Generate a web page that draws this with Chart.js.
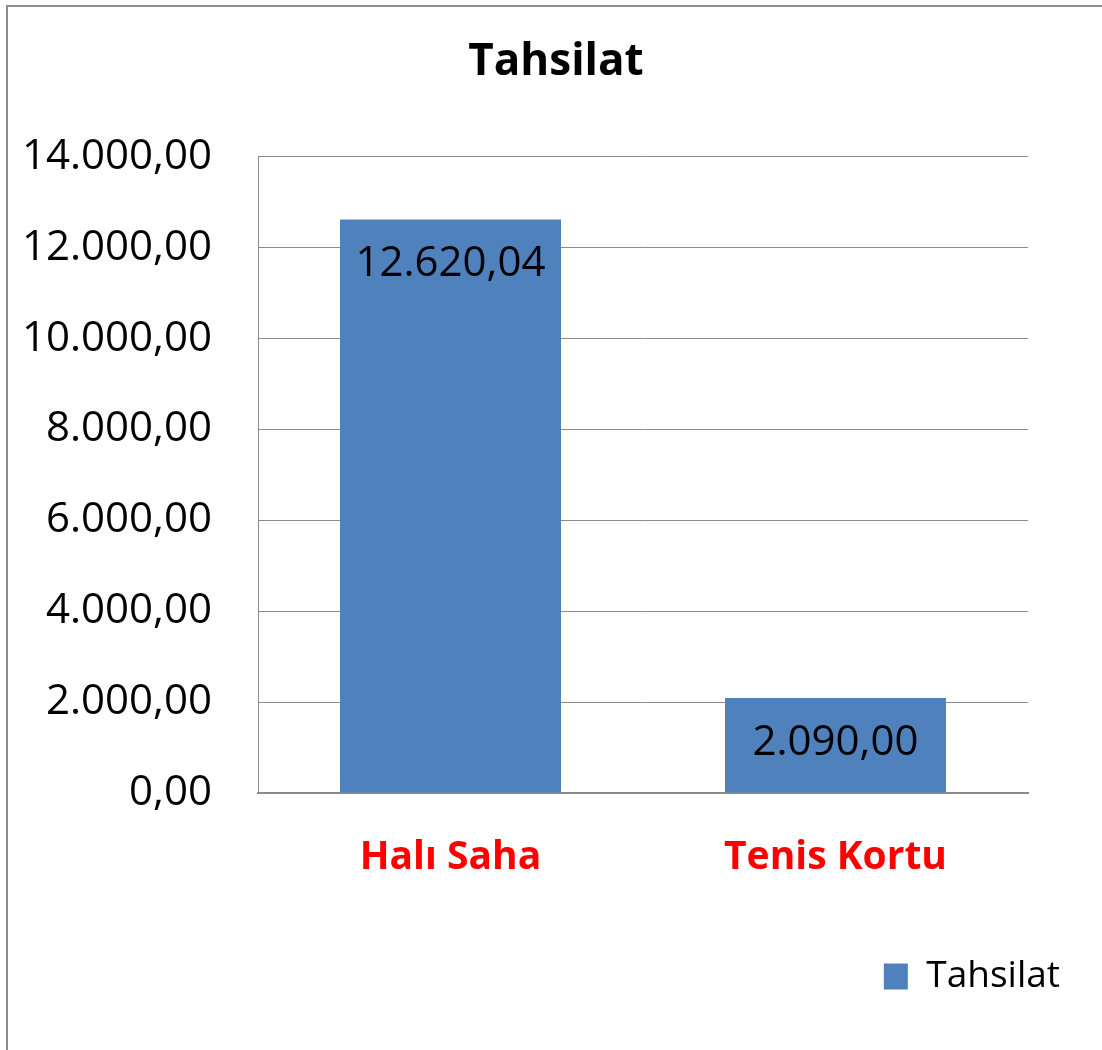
<!DOCTYPE html>
<html>
<head>
<meta charset="utf-8">
<script src="https://cdn.jsdelivr.net/npm/chart.js@4.4.0/dist/chart.umd.min.js"></script>
<style>
  html, body { margin: 0; padding: 0; background: #ffffff; }
  #wrap { width: 1102px; height: 1050px; position: relative; }
</style>
</head>
<body>
<div id="wrap"><canvas id="c" width="1102" height="1050"></canvas></div>
<script>
const categories = ['Halı Saha', 'Tenis Kortu'];
const seriesName = 'Tahsilat';
const values = [12620.04, 2090.00];
const valueLabels = ['12.620,04', '2.090,00'];
const tickValues = [0, 2000, 4000, 6000, 8000, 10000, 12000, 14000];
const tickLabels = ['0,00', '2.000,00', '4.000,00', '6.000,00', '8.000,00', '10.000,00', '12.000,00', '14.000,00'];

const FONT = "'Open Sans', 'Noto Sans', sans-serif";
const GRID = '#8c8c8c';

const frame = {
  id: 'frame',
  beforeDraw(chart) {
    const ctx = chart.ctx;
    ctx.save();
    ctx.fillStyle = '#ffffff';
    ctx.fillRect(0, 0, chart.width, chart.height);
    ctx.strokeStyle = '#8c8c8c';
    ctx.lineWidth = 2;
    ctx.strokeRect(7, 6, chart.width + 50, chart.height + 50);
    ctx.restore();
  }
};

const barLabels = {
  id: 'barLabels',
  afterDatasetsDraw(chart) {
    const ctx = chart.ctx;
    const meta = chart.getDatasetMeta(0);
    ctx.save();
    ctx.font = '42px ' + FONT;
    ctx.fillStyle = '#000000';
    ctx.textAlign = 'center';
    ctx.textBaseline = 'middle';
    meta.data.forEach((bar, i) => {
      ctx.fillText(valueLabels[i], bar.x, bar.y + 45);
    });
    ctx.restore();
  }
};

new Chart(document.getElementById('c'), {
  type: 'bar',
  data: {
    labels: categories,
    datasets: [{
      label: seriesName,
      data: values,
      backgroundColor: '#4f81bd',
      borderWidth: 0,
      categoryPercentage: 1.0,
      barPercentage: 0.574
    }]
  },
  plugins: [frame, barLabels],
  options: {
    responsive: false,
    animation: false,
    devicePixelRatio: 1,
    layout: { padding: { left: 10, right: 0, top: 0, bottom: 45 } },
    plugins: {
      title: {
        display: true,
        text: 'Tahsilat',
        color: '#000000',
        font: { family: FONT, size: 44, weight: 'bold', lineHeight: 1.2 },
        padding: { top: 36, bottom: 68 }
      },
      legend: {
        display: true,
        position: 'bottom',
        align: 'end',
        labels: {
          boxWidth: 24,
          boxHeight: 26,
          padding: 42,
          color: '#000000',
          font: { family: FONT, size: 37 }
        }
      },
      tooltip: { enabled: false }
    },
    scales: {
      x: {
        grid: { display: false },
        border: { display: true, color: GRID, width: 2 },
        ticks: {
          color: '#ff0000',
          padding: 33,
          font: { family: FONT, size: 39, weight: 'bold', lineHeight: 1.2 }
        },
        afterFit(scale) { scale.height = 123; }
      },
      y: {
        min: 0,
        max: 14000,
        afterBuildTicks(scale) { scale.ticks = tickValues.map(v => ({ value: v })); },
        grid: { color: GRID, lineWidth: 1, drawTicks: false },
        border: { display: true, color: GRID, width: 1 },
        ticks: {
          color: '#000000',
          padding: 46,
          font: { family: FONT, size: 42 },
          callback(value) {
            const i = tickValues.indexOf(value);
            return i >= 0 ? tickLabels[i] : '';
          }
        },
        afterFit(scale) { scale.width = 248; }
      },
      yr: {
        position: 'right',
        display: true,
        grid: { display: false, drawTicks: false },
        border: { display: false },
        ticks: { display: false },
        afterFit(scale) { scale.width = 74; }
      }
    }
  }
});
</script>
</body>
</html>
